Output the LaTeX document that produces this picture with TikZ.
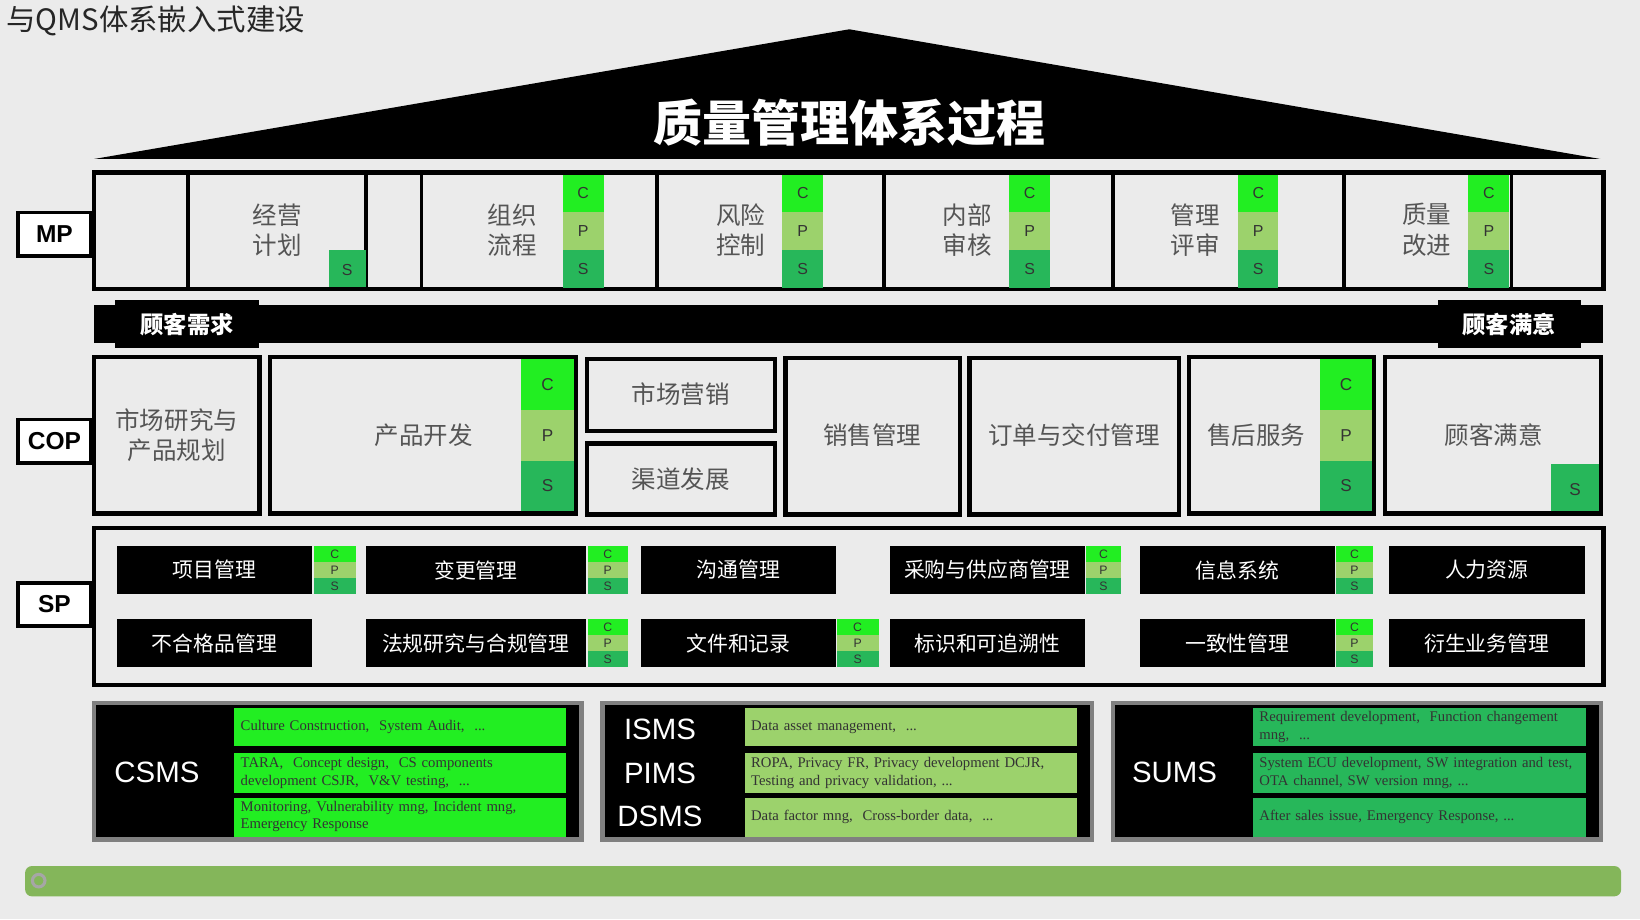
\documentclass[tikz,border=0pt]{standalone}
\usepackage{fontspec}
\setmainfont{Noto Sans CJK SC}
\newfontfamily\enserif{Liberation Serif}
\newfontfamily\ensans{Liberation Sans}
\definecolor{bg}{HTML}{EBEBEB}
\definecolor{cC}{HTML}{22EE22}
\definecolor{cP}{HTML}{9CD26C}
\definecolor{cS}{HTML}{27B75A}
\definecolor{txtgray}{HTML}{555555}
\definecolor{bar}{HTML}{84B65A}
\tikzset{
  frame/.style={draw=black,line width=3.5pt},
  celltxt/.style={text=txtgray,font=\fontsize{20}{25}\selectfont,align=center},
  bandtxt/.style={text=white,font=\bfseries\fontsize{19}{22}\selectfont},
  tag/.style={draw=black,line width=3pt,fill=white,font=\ensans\bfseries\fontsize{20}{22}\selectfont,
    minimum width=2.1cm,minimum height=1.25cm,inner sep=0pt},
  sptxt/.style={text=white,font=\fontsize{17}{20}\selectfont},
  systxt/.style={text=white,font=\ensans\fontsize{24}{26}\selectfont},
  entxt/.style={text=black!80,font=\enserif\fontsize{12}{14}\selectfont,
    align=left,anchor=west,text width=9cm,
    execute at begin node={\hyphenpenalty=10000\exhyphenpenalty=10000}}
}
% column of C / P / S cells: x1, x2, ytop, ybottom, font size
\newcommand{\cpscol}[5]{%
  \pgfmathsetmacro{\ya}{#3+(#4-#3)/3}%
  \pgfmathsetmacro{\yb}{#3+2*(#4-#3)/3}%
  \fill[cC] (#1,#3) rectangle (#2,\ya);
  \fill[cP] (#1,\ya) rectangle (#2,\yb);
  \fill[cS] (#1,\yb) rectangle (#2,#4);
  \node[font=\ensans\fontsize{#5}{#5}\selectfont,text=black!80,inner sep=0pt] at ({(#1+#2)/2},{(#3+\ya)/2}) {C};
  \node[font=\ensans\fontsize{#5}{#5}\selectfont,text=black!80,inner sep=0pt] at ({(#1+#2)/2},{(\ya+\yb)/2}) {P};
  \node[font=\ensans\fontsize{#5}{#5}\selectfont,text=black!80,inner sep=0pt] at ({(#1+#2)/2},{(\yb+#4)/2}) {S};
}
% black support-process box: name, x1, x2, ytop, ybottom, text
\newcommand{\spbox}[6]{%
  \fill[black] (#2,#4) rectangle (#3,#5);
  \node[sptxt] (#1) at ({(#2+#3)/2},{(#4+#5)/2}) {#6};
}
\begin{document}
\begin{tikzpicture}[x=0.03cm,y=-0.03cm]
\fill[bg] (0,0) rectangle (1568,879);
\useasboundingbox (0,0) rectangle (1568,879);
\node[anchor=west,font=\fontsize{24}{26}\selectfont,text=black!85] (title) at (2,20) {与QMS体系嵌入式建设};
% roof
\fill[black] (90,152) -- (812,28) -- (1530,152) -- cycle;
\node[text=white,font=\bfseries\fontsize{40}{44}\selectfont] (roof) at (812,117) {质量管理体系过程};
% MP row
\draw[frame] (90,165) rectangle (1533,276);
\foreach \xx in {180,350,403,628,845,1064,1285,1445}
  \draw[black,line width=3pt] (\xx,165) -- (\xx,276);
\fill[cS] (315,239) rectangle (350,274);
\node[font=\ensans\fontsize{13}{13}\selectfont,text=black!80] at (332,258) {S};
\node[celltxt] (plan) at (265,220) {经营\\计划};
\node[celltxt] (flow) at (490,220) {组织\\流程};
\cpscol{538}{577}{167}{275}{13}
\node[celltxt] (risk) at (708,220) {风险\\控制};
\cpscol{748}{787}{167}{275}{13}
\node[celltxt] (audit) at (925,220) {内部\\审核};
\cpscol{965}{1004}{167}{275}{13}
\node[celltxt] (review) at (1143,220) {管理\\评审};
\cpscol{1184}{1222}{167}{275}{13}
\node[celltxt] (improve) at (1364,220) {质量\\改进};
\cpscol{1404}{1443}{167}{275}{13}
% customer band
\fill[black] (90,292) rectangle (1533,328);
\fill[black] (110,287) rectangle (248,333);
\fill[black] (1375,287) rectangle (1512,333);
\node[bandtxt] (need) at (179,310) {顾客需求};
\node[bandtxt] (satis) at (1443,310) {顾客满意};
% COP row
\draw[frame] (90,341) rectangle (248,491);
\node[celltxt] (market) at (169,416) {市场研究与\\产品规划};
\draw[frame] (258,341) rectangle (551,491);
\cpscol{498}{549}{343}{489}{14}
\node[celltxt] (dev) at (405,416) {产品开发};
\draw[frame] (561,343) rectangle (741,412);
\node[celltxt] (mkt) at (651,377) {市场营销};
\draw[frame] (561,424) rectangle (741,492);
\node[celltxt] (chan) at (651,458) {渠道发展};
\draw[frame] (751,342) rectangle (918,492);
\node[celltxt] (sales) at (834,416) {销售管理};
\draw[frame] (927,342) rectangle (1127,492);
\node[celltxt] (order) at (1027,416) {订单与交付管理};
\draw[frame] (1137,341) rectangle (1314,491);
\cpscol{1262}{1312}{343}{489}{14}
\node[celltxt] (after) at (1201,416) {售后服务};
\draw[frame] (1324,341) rectangle (1531,491);
\fill[cS] (1483,444) rectangle (1529,489);
\node[font=\ensans\fontsize{14}{14}\selectfont,text=black!80] at (1506,468) {S};
\node[celltxt] (cust) at (1428,416) {顾客满意};
% SP row
\draw[frame] (90,505) rectangle (1533,655);
\spbox{proj}{112}{298}{522}{568}{项目管理}   \cpscol{300}{340}{522}{568}{10}
\spbox{chg}{350}{560}{522}{568}{变更管理}    \cpscol{562}{600}{522}{568}{10}
\spbox{comm}{613}{799}{522}{568}{沟通管理}
\spbox{purch}{851}{1037}{522}{568}{采购与供应商管理} \cpscol{1038}{1072}{522}{568}{10}
\spbox{info}{1090}{1276}{522}{568}{信息系统}  \cpscol{1277}{1313}{522}{568}{10}
\spbox{hr}{1328}{1515}{522}{568}{人力资源}
\spbox{ncp}{112}{298}{592}{638}{不合格品管理}
\spbox{law}{350}{560}{592}{638}{法规研究与合规管理} \cpscol{562}{600}{592}{638}{10}
\spbox{doc}{613}{799}{592}{638}{文件和记录}  \cpscol{800}{840}{592}{638}{10}
\spbox{trace}{851}{1037}{592}{638}{标识和可追溯性}
\spbox{conf}{1090}{1276}{592}{638}{一致性管理} \cpscol{1277}{1313}{592}{638}{10}
\spbox{deriv}{1328}{1515}{592}{638}{衍生业务管理}
% side tags
\node[tag] (mp) at (52,224) {MP};
\node[tag] (cop) at (52,422) {COP};
\node[tag] (sp) at (52,578) {SP};
% management systems
\foreach \xa/\xb in {88/558,574/1046,1062/1533}{
  \fill[gray] (\xa,670) rectangle (\xb,805);
  \fill[black] (\xa+4,674) rectangle (\xb-4,800);
}
\node[systxt] (csms) at (150,738) {CSMS};
\foreach \ya/\yb in {677/713,720/758,763/800} \fill[cC] (224,\ya) rectangle (541,\yb);
\node[entxt] (c1) at (226,695) {Culture Construction,\ \ System Audit,\ \ ...};
\node[entxt] (c2) at (226,739) {TARA,\ \ Concept design,\ \ CS components development CSJR,\ \ V\&V testing,\ \ ...};
\node[entxt] (c3) at (226,781) {Monitoring, Vulnerability mng, Incident mng, Emergency Response};
\node[systxt] (isms) at (631,697) {ISMS};
\node[systxt] (pims) at (631,739) {PIMS};
\node[systxt] (dsms) at (631,781) {DSMS};
\foreach \ya/\yb in {677/713,720/758,763/800} \fill[cP] (712,\ya) rectangle (1030,\yb);
\node[entxt] (i1) at (714,695) {Data asset management,\ \ ...};
\node[entxt] (i2) at (714,739) {ROPA, Privacy FR, Privacy development DCJR, Testing and privacy validation, ...};
\node[entxt] (i3) at (714,781) {Data factor mng,\ \ Cross-border data,\ \ ...};
\node[systxt] (sums) at (1123,738) {SUMS};
\foreach \ya/\yb in {677/713,720/758,763/800} \fill[cS] (1198,\ya) rectangle (1516,\yb);
\node[entxt] (s1) at (1200,695) {Requirement development,\ \ Function changement mng,\ \ ...};
\node[entxt] (s2) at (1200,739) {System ECU development, SW integration and test, OTA channel, SW version mng, ...};
\node[entxt] (s3) at (1200,781) {After sales issue, Emergency Response, ...};
% progress bar
\fill[bar,rounded corners=14\pgflinewidth] (24,828) rectangle (1550,857);
\draw[gray!70,line width=2.5pt,fill=bar] (37,842) circle (6);
\end{tikzpicture}
\end{document}
